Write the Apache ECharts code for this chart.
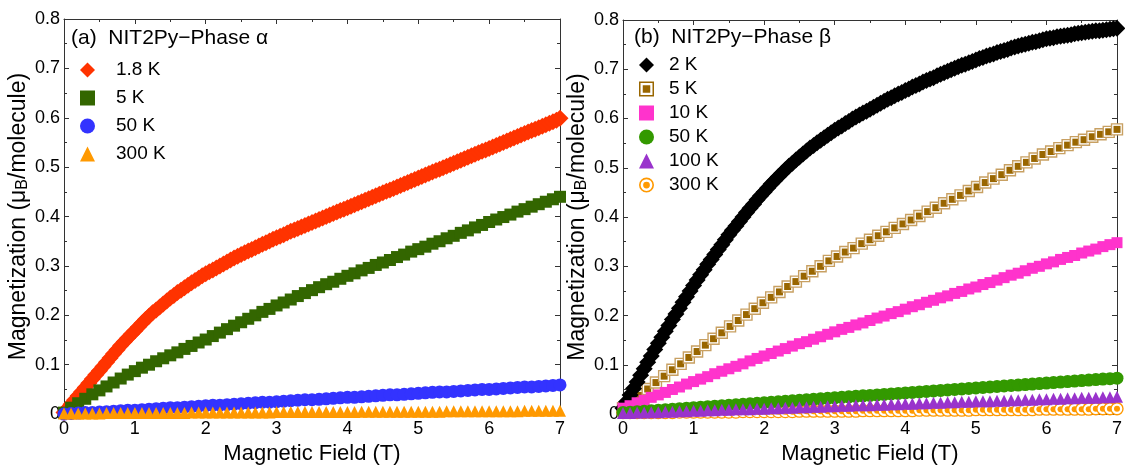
<!DOCTYPE html>
<html>
<head>
<meta charset="utf-8">
<script src="https://cdn.jsdelivr.net/npm/echarts@6/dist/echarts.min.js"></script>
<style>
  html, body { margin: 0; padding: 0; background: #fff; }
  #chart { width: 1125px; height: 470px; }
</style>
</head>
<body>
<div id="chart"></div>
<script>
// magnetic field (T) sampling grids
var field = [
  0, 0.1, 0.2, 0.3, 0.4, 0.5, 0.6, 0.7, 0.8, 0.9,
  1, 1.1, 1.2, 1.3, 1.4, 1.5, 1.6, 1.7, 1.8, 1.9,
  2, 2.1, 2.2, 2.3, 2.4, 2.5, 2.6, 2.7, 2.8, 2.9,
  3, 3.1, 3.2, 3.3, 3.4, 3.5, 3.6, 3.7, 3.8, 3.9,
  4, 4.1, 4.2, 4.3, 4.4, 4.5, 4.6, 4.7, 4.8, 4.9,
  5, 5.1, 5.2, 5.3, 5.4, 5.5, 5.6, 5.7, 5.8, 5.9,
  6, 6.1, 6.2, 6.3, 6.4, 6.5, 6.6, 6.7, 6.8, 6.9,
  7
];
var fieldFine = [
  0, 0.05, 0.1, 0.15, 0.2, 0.25, 0.3, 0.35, 0.4, 0.45, 0.5, 0.55, 0.6, 0.65, 0.7, 0.75, 0.8, 0.85, 0.9, 0.95,
  1, 1.05, 1.1, 1.15, 1.2, 1.25, 1.3, 1.35, 1.4, 1.45, 1.5, 1.55, 1.6, 1.65, 1.7, 1.75, 1.8, 1.85, 1.9, 1.95,
  2, 2.05, 2.1, 2.15, 2.2, 2.25, 2.3, 2.35, 2.4, 2.45, 2.5, 2.55, 2.6, 2.65, 2.7, 2.75, 2.8, 2.85, 2.9, 2.95,
  3, 3.05, 3.1, 3.15, 3.2, 3.25, 3.3, 3.35, 3.4, 3.45, 3.5, 3.55, 3.6, 3.65, 3.7, 3.75, 3.8, 3.85, 3.9, 3.95,
  4, 4.05, 4.1, 4.15, 4.2, 4.25, 4.3, 4.35, 4.4, 4.45, 4.5, 4.55, 4.6, 4.65, 4.7, 4.75, 4.8, 4.85, 4.9, 4.95,
  5, 5.05, 5.1, 5.15, 5.2, 5.25, 5.3, 5.35, 5.4, 5.45, 5.5, 5.55, 5.6, 5.65, 5.7, 5.75, 5.8, 5.85, 5.9, 5.95,
  6, 6.05, 6.1, 6.15, 6.2, 6.25, 6.3, 6.35, 6.4, 6.45, 6.5, 6.55, 6.6, 6.65, 6.7, 6.75, 6.8, 6.85, 6.9, 6.95,
  7
];
var field5K = [
  0, 0.117, 0.233, 0.35, 0.467, 0.583, 0.7, 0.817, 0.933, 1.05,
  1.167, 1.283, 1.4, 1.517, 1.633, 1.75, 1.867, 1.983, 2.1, 2.217,
  2.333, 2.45, 2.567, 2.683, 2.8, 2.917, 3.033, 3.15, 3.267, 3.383,
  3.5, 3.617, 3.733, 3.85, 3.967, 4.083, 4.2, 4.317, 4.433, 4.55,
  4.667, 4.783, 4.9, 5.017, 5.133, 5.25, 5.367, 5.483, 5.6, 5.717,
  5.833, 5.95, 6.067, 6.183, 6.3, 6.417, 6.533, 6.65, 6.767, 6.883,
  7
];

// (a) NIT2Py phase alpha, magnetization (muB/molecule)
var alpha18K = [
  0.003, 0.0115, 0.020, 0.0285, 0.037, 0.0455, 0.054, 0.0625, 0.071, 0.0795, 0.088, 0.0965, 0.105, 0.1135, 0.122, 0.1305, 0.139, 0.1465, 0.154, 0.1615,
  0.169, 0.1765, 0.184, 0.1915, 0.198, 0.205, 0.211, 0.217, 0.223, 0.229, 0.235, 0.240, 0.246, 0.251, 0.256, 0.261, 0.266, 0.2705, 0.275, 0.280,
  0.284, 0.288, 0.292, 0.296, 0.300, 0.304, 0.308, 0.312, 0.316, 0.3195, 0.323, 0.3265, 0.330, 0.3335, 0.337, 0.3405, 0.344, 0.347, 0.3505, 0.354,
  0.357, 0.360, 0.363, 0.3665, 0.370, 0.373, 0.376, 0.379, 0.382, 0.385, 0.388, 0.391, 0.394, 0.397, 0.400, 0.403, 0.406, 0.409, 0.412, 0.415,
  0.418, 0.421, 0.424, 0.427, 0.430, 0.433, 0.436, 0.439, 0.442, 0.445, 0.448, 0.451, 0.454, 0.457, 0.460, 0.463, 0.466, 0.469, 0.472, 0.475,
  0.478, 0.481, 0.484, 0.487, 0.490, 0.493, 0.496, 0.499, 0.502, 0.505, 0.508, 0.511, 0.514, 0.517, 0.520, 0.523, 0.526, 0.529, 0.532, 0.535,
  0.538, 0.541, 0.544, 0.547, 0.550, 0.553, 0.556, 0.559, 0.562, 0.565, 0.568, 0.571, 0.574, 0.577, 0.580, 0.583, 0.586, 0.589, 0.592, 0.595,
  0.599
];
var alpha5K = [
  0.003, 0.013, 0.022, 0.031, 0.040, 0.048, 0.056, 0.064, 0.072, 0.080,
  0.087, 0.094, 0.100, 0.107, 0.113, 0.119, 0.125, 0.132, 0.138, 0.145,
  0.151, 0.158, 0.165, 0.172, 0.179, 0.186, 0.193, 0.200, 0.207, 0.213,
  0.220, 0.226, 0.232, 0.239, 0.245, 0.251, 0.257, 0.263, 0.268, 0.274,
  0.280, 0.285, 0.291, 0.296, 0.302, 0.307, 0.312, 0.318, 0.323, 0.329,
  0.334, 0.339, 0.345, 0.350, 0.356, 0.361, 0.367, 0.372, 0.378, 0.383,
  0.389, 0.394, 0.399, 0.404, 0.410, 0.415, 0.420, 0.425, 0.430, 0.435,
  0.440
];
var alpha50K = [
  0.000, 0.001, 0.002, 0.003, 0.003, 0.004, 0.005, 0.006, 0.007, 0.008,
  0.008, 0.009, 0.010, 0.011, 0.012, 0.013, 0.013, 0.014, 0.015, 0.016,
  0.017, 0.018, 0.018, 0.019, 0.020, 0.021, 0.022, 0.023, 0.024, 0.024,
  0.025, 0.026, 0.027, 0.028, 0.029, 0.029, 0.030, 0.031, 0.032, 0.033,
  0.034, 0.034, 0.035, 0.036, 0.037, 0.038, 0.039, 0.039, 0.040, 0.041,
  0.042, 0.043, 0.044, 0.045, 0.045, 0.046, 0.047, 0.048, 0.049, 0.050,
  0.050, 0.051, 0.052, 0.053, 0.054, 0.055, 0.055, 0.056, 0.057, 0.058,
  0.059
];
var alpha300K = [
  0.001, 0.001, 0.001, 0.001, 0.001, 0.001, 0.002, 0.002, 0.002, 0.002,
  0.002, 0.002, 0.002, 0.002, 0.002, 0.002, 0.002, 0.002, 0.003, 0.003,
  0.003, 0.003, 0.003, 0.003, 0.003, 0.003, 0.003, 0.003, 0.003, 0.003,
  0.004, 0.004, 0.004, 0.004, 0.004, 0.004, 0.004, 0.004, 0.004, 0.004,
  0.004, 0.004, 0.005, 0.005, 0.005, 0.005, 0.005, 0.005, 0.005, 0.005,
  0.005, 0.005, 0.005, 0.005, 0.006, 0.006, 0.006, 0.006, 0.006, 0.006,
  0.006, 0.006, 0.006, 0.006, 0.006, 0.007, 0.007, 0.007, 0.007, 0.007,
  0.007
];

// (b) NIT2Py phase beta
var beta2K = [
  0.012, 0.025, 0.039, 0.052, 0.065, 0.079, 0.092, 0.105, 0.118, 0.131, 0.144, 0.156, 0.168, 0.180, 0.192, 0.203, 0.215, 0.227, 0.238, 0.250,
  0.261, 0.272, 0.283, 0.293, 0.304, 0.314, 0.324, 0.334, 0.344, 0.354, 0.364, 0.373, 0.382, 0.391, 0.400, 0.409, 0.418, 0.426, 0.435, 0.443,
  0.451, 0.459, 0.467, 0.474, 0.482, 0.489, 0.496, 0.503, 0.509, 0.516, 0.522, 0.528, 0.534, 0.540, 0.545, 0.551, 0.556, 0.561, 0.566, 0.571,
  0.576, 0.581, 0.585, 0.590, 0.594, 0.599, 0.603, 0.607, 0.611, 0.615, 0.619, 0.623, 0.627, 0.631, 0.635, 0.639, 0.642, 0.646, 0.650, 0.653,
  0.657, 0.660, 0.664, 0.667, 0.670, 0.674, 0.677, 0.680, 0.683, 0.687, 0.690, 0.693, 0.696, 0.699, 0.702, 0.705, 0.708, 0.710, 0.713, 0.716,
  0.719, 0.722, 0.724, 0.727, 0.729, 0.731, 0.734, 0.736, 0.738, 0.740, 0.743, 0.745, 0.747, 0.749, 0.751, 0.753, 0.755, 0.756, 0.758, 0.760,
  0.762, 0.763, 0.764, 0.766, 0.767, 0.768, 0.769, 0.770, 0.772, 0.773, 0.774, 0.775, 0.776, 0.777, 0.778, 0.778, 0.779, 0.780, 0.781, 0.782,
  0.783
];
var beta5K = [
  0.012, 0.025, 0.038, 0.051, 0.064, 0.077, 0.090, 0.102, 0.115, 0.127,
  0.140, 0.153, 0.165, 0.178, 0.190, 0.202, 0.214, 0.226, 0.237, 0.248,
  0.259, 0.269, 0.280, 0.290, 0.300, 0.311, 0.320, 0.329, 0.337, 0.346,
  0.354, 0.362, 0.370, 0.378, 0.386, 0.394, 0.402, 0.411, 0.419, 0.428,
  0.436, 0.444, 0.453, 0.461, 0.470, 0.478, 0.486, 0.495, 0.503, 0.511,
  0.519, 0.527, 0.533, 0.540, 0.546, 0.552, 0.557, 0.563, 0.568, 0.573,
  0.578
];
var beta10K = [
  0.012, 0.017, 0.023, 0.028, 0.034, 0.039, 0.044, 0.050, 0.055, 0.061,
  0.066, 0.071, 0.076, 0.082, 0.087, 0.092, 0.097, 0.102, 0.108, 0.113,
  0.118, 0.123, 0.128, 0.133, 0.138, 0.143, 0.147, 0.152, 0.157, 0.162,
  0.167, 0.172, 0.176, 0.181, 0.185, 0.190, 0.195, 0.199, 0.204, 0.208,
  0.213, 0.218, 0.222, 0.227, 0.231, 0.236, 0.240, 0.245, 0.249, 0.254,
  0.258, 0.263, 0.267, 0.272, 0.277, 0.282, 0.286, 0.291, 0.296, 0.300,
  0.305, 0.309, 0.314, 0.318, 0.322, 0.327, 0.331, 0.335, 0.340, 0.344,
  0.348
];
var beta50K = [
  0.003, 0.004, 0.005, 0.006, 0.007, 0.008, 0.009, 0.010, 0.011, 0.012,
  0.013, 0.014, 0.015, 0.016, 0.017, 0.018, 0.019, 0.020, 0.021, 0.022,
  0.023, 0.024, 0.025, 0.026, 0.027, 0.028, 0.029, 0.030, 0.031, 0.032,
  0.033, 0.034, 0.035, 0.036, 0.037, 0.038, 0.039, 0.040, 0.041, 0.042,
  0.043, 0.044, 0.045, 0.046, 0.047, 0.048, 0.049, 0.050, 0.051, 0.052,
  0.053, 0.054, 0.055, 0.056, 0.057, 0.058, 0.059, 0.060, 0.061, 0.062,
  0.063, 0.064, 0.065, 0.066, 0.067, 0.068, 0.069, 0.070, 0.071, 0.072,
  0.073
];
var beta100K = [
  0.002, 0.002, 0.003, 0.003, 0.004, 0.004, 0.005, 0.005, 0.006, 0.006,
  0.007, 0.007, 0.008, 0.008, 0.009, 0.009, 0.010, 0.010, 0.010, 0.011,
  0.011, 0.012, 0.012, 0.013, 0.013, 0.014, 0.014, 0.015, 0.015, 0.016,
  0.016, 0.017, 0.017, 0.018, 0.018, 0.018, 0.019, 0.019, 0.020, 0.020,
  0.021, 0.021, 0.022, 0.022, 0.023, 0.023, 0.024, 0.024, 0.025, 0.025,
  0.026, 0.026, 0.026, 0.027, 0.027, 0.028, 0.028, 0.029, 0.029, 0.030,
  0.030, 0.031, 0.031, 0.032, 0.032, 0.033, 0.033, 0.033, 0.034, 0.034,
  0.035
];
var beta300K = [
  0.003, 0.003, 0.003, 0.003, 0.003, 0.003, 0.003, 0.003, 0.004, 0.004,
  0.004, 0.004, 0.004, 0.004, 0.004, 0.004, 0.004, 0.005, 0.005, 0.005,
  0.005, 0.005, 0.005, 0.005, 0.005, 0.006, 0.006, 0.006, 0.006, 0.006,
  0.006, 0.006, 0.006, 0.006, 0.007, 0.007, 0.007, 0.007, 0.007, 0.007,
  0.007, 0.007, 0.008, 0.008, 0.008, 0.008, 0.008, 0.008, 0.008, 0.008,
  0.009, 0.009, 0.009, 0.009, 0.009, 0.009, 0.009, 0.009, 0.009, 0.010,
  0.010, 0.010, 0.010, 0.010, 0.010, 0.010, 0.010, 0.011, 0.011, 0.011,
  0.011
];

var FONT = "'Liberation Sans', Arial, Helvetica, sans-serif";
var AXIS_COLOR = '#333';

function pairs(xs, ys) {
  return xs.map(function (x, i) { return [x, ys[i]]; });
}

function xAxisFor(grid, pos) {
  var main = pos === 'bottom';
  return {
    type: 'value', gridIndex: grid, position: pos,
    min: 0, max: 7, interval: 1,
    name: main ? 'Magnetic Field (T)' : '',
    nameLocation: 'middle', nameGap: 23,
    nameTextStyle: { fontSize: 22, color: '#000', fontFamily: FONT },
    axisLine: { onZero: false, lineStyle: { color: AXIS_COLOR, width: 1 } },
    axisTick: { inside: true, length: 5, lineStyle: { color: AXIS_COLOR } },
    minorTick: { show: true, splitNumber: 2, length: 3, lineStyle: { color: AXIS_COLOR } },
    axisLabel: { show: main, fontSize: 18, color: '#000', margin: 6, fontFamily: FONT },
    splitLine: { show: false }
  };
}

function yAxisFor(grid, pos) {
  var main = pos === 'left';
  return {
    type: 'value', gridIndex: grid, position: pos,
    min: 0, max: 0.8, interval: 0.1,
    name: main ? '{m|Magnetization (\u03bc}{s|B}{m|/molecule)}' : '',
    nameLocation: 'middle', nameGap: 31,
    nameTextStyle: {
      color: '#000',
      rich: {
        m: { fontSize: 23, lineHeight: 25, fontFamily: FONT, color: '#000' },
        s: { fontSize: 16, lineHeight: 14, verticalAlign: 'bottom', fontFamily: FONT, color: '#000' }
      }
    },
    axisLine: { onZero: false, lineStyle: { color: AXIS_COLOR, width: 1 } },
    axisTick: { inside: true, length: 5, lineStyle: { color: AXIS_COLOR } },
    minorTick: { show: true, splitNumber: 2, length: 3, lineStyle: { color: AXIS_COLOR } },
    axisLabel: {
      show: main, fontSize: 18, color: '#000', margin: 4, fontFamily: FONT,
      formatter: function (v) { return v === 0 ? '0' : v.toFixed(1); }
    },
    splitLine: { show: false }
  };
}

function scatter(name, grid, xs, ys, symbol, size, color) {
  return {
    type: 'scatter', name: name,
    xAxisIndex: grid * 2, yAxisIndex: grid * 2,
    data: pairs(xs, ys),
    symbol: symbol, symbolSize: size,
    itemStyle: { color: color, opacity: 1 },
    emphasis: { disabled: true },
    silent: true
  };
}

// marker with coloured edge, white ring and filled centre
function ringMarker(kind, outer, inner, edge, fill) {
  return function (params, api) {
    var p = api.coord([api.value(0), api.value(1)]);
    function shapeOf(size) {
      return kind === 'rect'
        ? { x: p[0] - size / 2, y: p[1] - size / 2, width: size, height: size }
        : { cx: p[0], cy: p[1], r: size / 2 };
    }
    return {
      type: 'group',
      children: [
        { type: kind, shape: shapeOf(outer), style: { fill: '#fff', stroke: edge, lineWidth: 1.4 } },
        { type: kind, shape: shapeOf(inner), style: { fill: fill } }
      ]
    };
  };
}

function ringSeries(name, grid, xs, ys, kind, outer, inner, edge, fill) {
  return {
    type: 'custom', name: name,
    xAxisIndex: grid * 2, yAxisIndex: grid * 2,
    data: pairs(xs, ys),
    encode: { x: 0, y: 1 },
    renderItem: ringMarker(kind, outer, inner, edge, fill),
    itemStyle: { color: fill },
    silent: true
  };
}

var RING_SQUARE = 'path://M0,0H12V12H0Z M1.2,1.2V10.8H10.8V1.2Z M3,3H9V9H3Z';
var RING_CIRCLE = 'path://M6,0A6,6 0 1,1 6,12A6,6 0 1,1 6,0Z M6,1.3A4.7,4.7 0 1,0 6,10.7A4.7,4.7 0 1,0 6,1.3Z M6,3.3A2.7,2.7 0 1,1 6,8.7A2.7,2.7 0 1,1 6,3.3Z';

var titleText = { fontSize: 21, fontWeight: 'normal', color: '#000', fontFamily: FONT };

function legendText(gap) {
  return { fontSize: 19, lineHeight: 20, color: '#000', fontFamily: FONT, padding: [0, 0, 0, gap] };
}

var chart = echarts.init(document.getElementById('chart'));
var option = {
  animation: false,
  backgroundColor: '#fff',
  title: [
    { text: '(a)  NIT2Py\u2212Phase \u03b1', left: 71, top: 28, padding: 0, textStyle: titleText },
    { text: '(b)  NIT2Py\u2212Phase \u03b2', left: 634, top: 27, padding: 0, textStyle: titleText }
  ],
  grid: [
    { left: 64, right: 565, top: 19, bottom: 48 },
    { left: 623, right: 7, top: 20, bottom: 47 }
  ],
  xAxis: [xAxisFor(0, 'bottom'), xAxisFor(0, 'top'), xAxisFor(1, 'bottom'), xAxisFor(1, 'top')],
  yAxis: [yAxisFor(0, 'left'), yAxisFor(0, 'right'), yAxisFor(1, 'left'), yAxisFor(1, 'right')],
  legend: [
    {
      orient: 'vertical', left: 80, top: 60, padding: 0,
      itemWidth: 15, itemHeight: 15, itemGap: 8, selectedMode: false,
      textStyle: legendText(16),
      data: [
        { name: '1.8 K', icon: 'diamond' },
        { name: '5 K', icon: 'rect', itemStyle: { color: '#336600' } },
        { name: '50 K', icon: 'circle' },
        { name: '300 K', icon: 'triangle' }
      ]
    },
    {
      orient: 'vertical', left: 639, top: 55, padding: 0,
      itemWidth: 15, itemHeight: 15, itemGap: 4, selectedMode: false,
      textStyle: legendText(10),
      data: [
        { name: '2 K', icon: 'diamond' },
        { name: '5 K ', icon: RING_SQUARE, itemStyle: { color: '#996600' } },
        { name: '10 K', icon: 'rect' },
        { name: '50 K ', icon: 'circle' },
        { name: '100 K', icon: 'triangle' },
        { name: '300 K ', icon: RING_CIRCLE, itemStyle: { color: '#ff9900' } }
      ]
    }
  ],
  series: [
    scatter('1.8 K', 0, fieldFine, alpha18K, 'diamond', 17, '#ff3300'),
    scatter('5 K', 0, field, alpha5K, 'rect', 12, '#336600'),
    scatter('50 K', 0, field, alpha50K, 'circle', 13, '#3333ff'),
    scatter('300 K', 0, field, alpha300K, 'triangle', 12, '#ff9900'),

    scatter('2 K', 1, fieldFine, beta2K, 'diamond', 17, '#000000'),
    ringSeries('5 K ', 1, field5K, beta5K, 'rect', 11, 7, '#c8a062', '#996600'),
    scatter('10 K', 1, field, beta10K, 'rect', 11, '#ff33cc'),
    scatter('50 K ', 1, field, beta50K, 'circle', 13, '#339900'),
    scatter('100 K', 1, field, beta100K, 'triangle', 12, '#9933cc'),
    ringSeries('300 K ', 1, field, beta300K, 'circle', 12, 6, '#ff9900', '#ff9900')
  ]
};
option && chart.setOption(option);
</script>
</body>
</html>
